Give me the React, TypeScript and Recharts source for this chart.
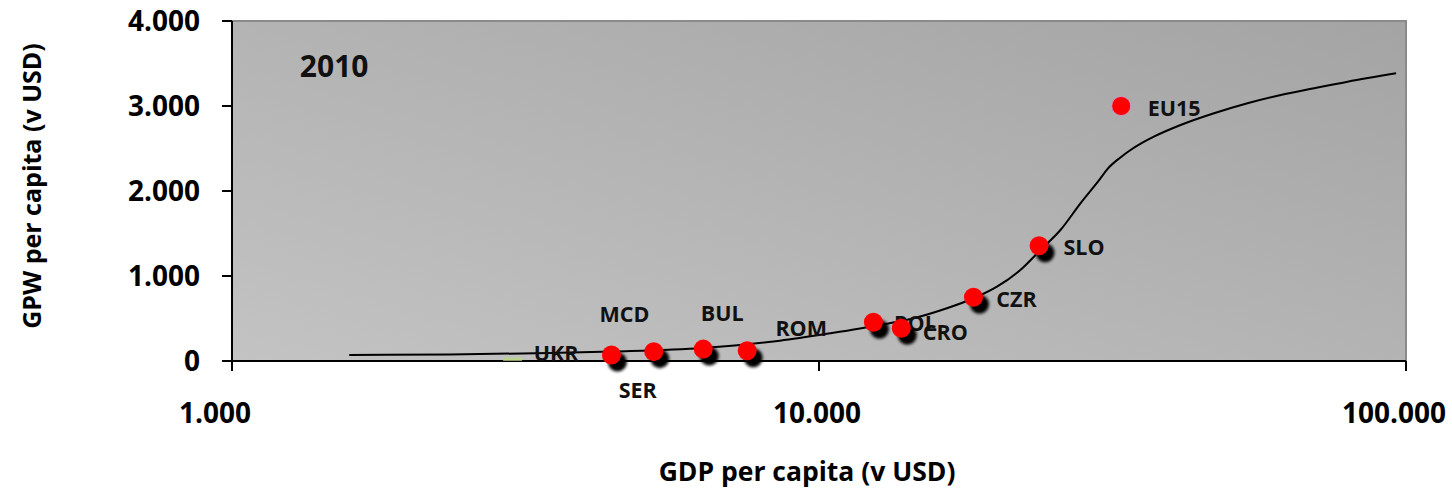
import { ComposedChart, Line, Scatter, XAxis, YAxis, ReferenceArea, ReferenceDot } from 'recharts';

// GDP per capita (USD) vs GPW per capita (USD), 2010
const countryNames = ['MCD', 'SER', 'BUL', 'ROM', 'POL', 'CRO', 'CZR', 'SLO'];
const countryGdp = [4430, 5230, 6350, 7545, 12380, 13810, 18330, 23710];
const countryGpw = [70, 110, 140, 120, 455, 385, 750, 1355];

const ukrName = ['UKR'];
const ukrGdp = [3000];
const ukrGpw = [15];

const euName = ['EU15'];
const euGdp = [32720];
const euGpw = [3000];

// fitted curve
const curveGdp = [1584, 2346, 3475, 4451, 6340, 8579, 10441, 12709, 14483, 16514, 18337, 20101, 22029, 23836, 25780, 27886, 30163, 30970, 32630, 33940, 35500, 37190, 41310, 47090, 53690, 61200, 69740, 79530, 96170];
const curveGpw = [71, 76, 94, 112, 153, 239, 326, 424, 502, 620, 738, 874, 1071, 1306, 1541, 1855, 2149, 2255, 2395, 2482, 2565, 2639, 2776, 2914, 3032, 3129, 3208, 3286, 3385];

const xTicks = [1000, 10000, 100000];
const yTicks = [0, 1000, 2000, 3000, 4000];

const rows = (names: string[], xs: number[], ys: number[]) => names.map((name, i) => ({ name, x: xs[i], y: ys[i] }));
const countries = rows(countryNames, countryGdp, countryGpw);
const ukr = rows(ukrName, ukrGdp, ukrGpw);
const eu = rows(euName, euGdp, euGpw);
const curve = curveGdp.map((x, i) => ({ x, y: curveGpw[i] }));

const FONT = '"Open Sans", sans-serif';
const fmt = (v: number) => v.toLocaleString('de-DE');

// label offsets from the marker centre
const labelPos: Record<string, [number, number]> = {
  UKR: [44, -7],
  MCD: [13, -42],
  SER: [-16, 38],
  BUL: [19, -37],
  ROM: [54, -23],
  POL: [42, 0],
  CRO: [44, 3],
  CZR: [43, 1],
  SLO: [45, 1],
  EU15: [53, 1],
};

// Excel-like nudges of the x tick labels
const xTickShift = [-17, -2, -12];

const Tag = ({ cx, cy, name }: { cx: number; cy: number; name: string }) => {
  const [dx, dy] = labelPos[name] || [40, 0];
  return (
    <text x={cx + dx} y={cy + dy} textAnchor="middle" dominantBaseline="central" fontFamily={FONT} fontWeight="bold" fontSize={21.5} fill="#111">
      {name}
    </text>
  );
};

const CountryDot = (p: any) => (
  <g>
    <circle cx={p.cx + 6} cy={p.cy + 7} r={9.5} fill="#000" filter="url(#shadowBlur)" />
    <circle cx={p.cx} cy={p.cy} r={9.5} fill="#ff0000" />
    <Tag cx={p.cx} cy={p.cy} name={p.payload.name} />
  </g>
);

const EuDot = (p: any) => (
  <g>
    <circle cx={p.cx} cy={p.cy} r={9.5} fill="#ff0000" stroke="#c9a0d8" strokeWidth={0.8} />
    <Tag cx={p.cx} cy={p.cy} name={p.payload.name} />
  </g>
);

const UkrDot = (p: any) => (
  <g>
    <rect x={p.cx - 9} y={p.cy - 2} width={19} height={3} fill="#b9d38c" />
    <Tag cx={p.cx} cy={p.cy} name={p.payload.name} />
  </g>
);

const XTick = (p: any) => (
  <text x={p.x + (xTickShift[p.index] || 0)} y={p.y + 52} textAnchor="middle" fontFamily={FONT} fontWeight="bold" fontSize={28} fill="#000">
    {fmt(p.payload.value)}
  </text>
);

export default function App() {
  return (
    <div style={{ position: 'absolute', left: 0, top: 0, background: '#fff' }}>
      <svg width={0} height={0} style={{ position: 'absolute' }}>
        <defs>
          <linearGradient id="plotBg" x1="0" y1="1" x2="1" y2="0">
            <stop offset="0%" stopColor="#c3c3c3" />
            <stop offset="100%" stopColor="#a4a4a4" />
          </linearGradient>
          <filter id="shadowBlur" x="-50%" y="-50%" width="200%" height="200%">
            <feGaussianBlur stdDeviation="1.6" />
          </filter>
        </defs>
      </svg>
      <ComposedChart width={1452} height={491} margin={{ top: 21, right: 46, bottom: 0, left: 0 }}>
        <ReferenceArea x1={1000} x2={100000} y1={0} y2={4000} fill="url(#plotBg)" fillOpacity={1} stroke="#8a8a8a" strokeWidth={2} ifOverflow="extendDomain" />
        <XAxis
          dataKey="x"
          type="number"
          scale="log"
          domain={[1000, 100000]}
          ticks={xTicks}
          height={130}
          tickSize={10}
          tickMargin={0}
          axisLine={{ stroke: '#000', strokeWidth: 2 }}
          tickLine={{ stroke: '#000', strokeWidth: 2 }}
          tick={XTick}
          label={{
            content: (props: any) => {
              const vb = props.viewBox || {};
              return (
                <text x={vb.x + vb.width / 2 - 12} y={471} textAnchor="middle" dominantBaseline="central" fontFamily={FONT} fontWeight="bold" fontSize={26.5} fill="#000">
                  GDP per capita (v USD)
                </text>
              );
            },
          }}
        />
        <YAxis
          dataKey="y"
          type="number"
          domain={[0, 4000]}
          ticks={yTicks}
          tickFormatter={fmt}
          width={232}
          tickSize={10}
          tickMargin={22}
          axisLine={{ stroke: '#000', strokeWidth: 2 }}
          tickLine={{ stroke: '#000', strokeWidth: 2 }}
          tick={{ fontFamily: FONT, fontWeight: 'bold', fontSize: 28, fill: '#000' }}
          label={{
            content: (props: any) => {
              const vb = props.viewBox || {};
              const cy = vb.y + vb.height / 2 - 5;
              return (
                <text x={31} y={cy} transform={`rotate(-90 31 ${cy})`} textAnchor="middle" dominantBaseline="central" fontFamily={FONT} fontWeight="bold" fontSize={25} fill="#000">
                  GPW per capita (v USD)
                </text>
              );
            },
          }}
        />
        <ReferenceDot
          x={1493}
          y={3470}
          r={0}
          ifOverflow="visible"
          label={{ value: '2010', position: 'center', fontFamily: FONT, fontWeight: 'bold', fontSize: 30, fill: '#111' }}
        />
        <Line data={curve} dataKey="y" type="monotone" stroke="#000" strokeWidth={2} dot={false} activeDot={false} isAnimationActive={false} />
        <Scatter data={ukr} dataKey="y" shape={UkrDot} isAnimationActive={false} />
        <Scatter data={countries} dataKey="y" shape={CountryDot} isAnimationActive={false} />
        <Scatter data={eu} dataKey="y" shape={EuDot} isAnimationActive={false} />
      </ComposedChart>
    </div>
  );
}
